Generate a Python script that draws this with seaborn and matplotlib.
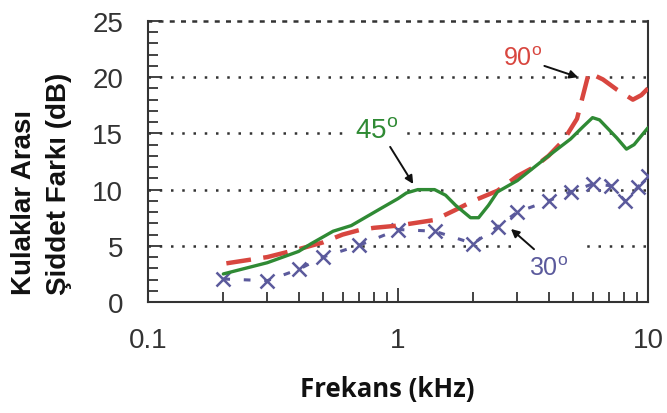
import numpy as np
import pandas as pd
import matplotlib
matplotlib.use("Agg")
import matplotlib.pyplot as plt
import seaborn as sns
from matplotlib.ticker import FixedLocator, NullFormatter, MultipleLocator

# values
freq90 = [0.2, 0.3, 0.4, 0.5, 0.6, 0.7, 0.8, 1.0, 1.4, 1.7, 2.0, 2.5, 3.0, 3.5, 4.0, 4.6, 5.2, 5.8, 6.6, 7.5, 8.7, 9.4, 10.0]
ild90 = [3.4, 4.0, 4.7, 5.3, 6.0, 6.4, 6.6, 6.8, 7.3, 8.2, 9.0, 9.9, 11.2, 12.0, 13.0, 14.4, 16.3, 20.4, 19.8, 18.9, 18.0, 18.4, 19.0]

freq45 = [0.2, 0.3, 0.4, 0.45, 0.55, 0.65, 0.85, 1.0, 1.08, 1.2, 1.4, 1.55, 1.7, 1.95, 2.1, 2.3, 2.5,
          3.0, 4.0, 4.9, 5.5, 6.0, 6.4, 7.5, 8.2, 8.8, 9.5, 10.0]
ild45 = [2.5, 3.5, 4.5, 5.2, 6.3, 6.8, 8.3, 9.2, 9.7, 10.0, 10.0, 9.5, 8.6, 7.5, 7.5, 8.6, 9.8,
         10.8, 13.0, 14.5, 15.6, 16.4, 16.2, 14.6, 13.6, 14.0, 14.9, 15.5]

freq30 = [0.2, 0.3, 0.4, 0.5, 0.7, 1.0, 1.4, 2.0, 2.5, 3.0, 4.0, 4.9, 6.0, 7.1, 8.1, 9.1, 10.0]
ild30 = [2.05, 1.9, 2.9, 4.0, 5.05, 6.45, 6.3, 5.2, 6.7, 8.0, 9.0, 9.8, 10.5, 10.35, 9.0, 10.2, 11.2]

xTicks = [0.1, 1, 10]
xLabels = ["0.1", "1", "10"]
yTicks = [0, 5, 10, 15, 20, 25]
yLabels = ["0", "5", "10", "15", "20", "25"]

green = "#2f8a34"
red = "#d8463f"
navy = "#5b5a9c"

sns.set_style("ticks")
plt.rcParams['font.family'] = ['Liberation Sans', 'DejaVu Sans']

fig = plt.figure(figsize=(6.67, 4.14), dpi=100)
ax = fig.add_axes([0.222, 0.268, 0.7495, 0.679])

# red curve drawn right-to-left so the dash pattern starts at the 10 kHz end
df90 = pd.DataFrame({"f": freq90[::-1], "ild": ild90[::-1]})
df45 = pd.DataFrame({"f": freq45, "ild": ild45})
df30 = pd.DataFrame({"f": freq30, "ild": ild30})

sns.lineplot(data=df90, x="f", y="ild", ax=ax, color=red, lw=3.2, zorder=4, sort=False)
ax.lines[-1].set_dashes([5.6, 2.8])
sns.lineplot(data=df45, x="f", y="ild", ax=ax, color=green, lw=2.4, zorder=5)
sns.lineplot(data=df30, x="f", y="ild", ax=ax, color=navy, lw=2.2, zorder=3,
             marker="x", markersize=10, markeredgewidth=1.8, markeredgecolor=navy)
ax.lines[-1].set_dashes([2.2, 4.5])

ax.set_xscale("log")
ax.set_xlim(0.1, 10)
ax.set_ylim(0, 25)
ax.set_xticks(xTicks)
ax.set_xticklabels(xLabels)
ax.xaxis.set_minor_locator(FixedLocator([k * d for d in (0.1, 1) for k in range(2, 10)]))
ax.xaxis.set_minor_formatter(NullFormatter())
ax.set_yticks(yTicks)
ax.set_yticklabels(yLabels)
ax.yaxis.set_minor_locator(MultipleLocator(1))

ax.tick_params(which="both", direction="in", colors="#222222", labelcolor="#333333",
               labelsize=20, pad=18)
ax.tick_params(which="major", length=10, width=1.2)
ax.tick_params(which="minor", length=7, width=1.2)

for yv in [5, 10, 15, 20]:
    ax.axhline(yv, color="#333333", lw=1.8, ls=(0, (1, 3.5)), zorder=1)

for s in ["left", "bottom", "right"]:
    ax.spines[s].set_color("#333333")
    ax.spines[s].set_linewidth(1.5)
ax.spines["top"].set_linestyle((0, (1, 3.5)))
ax.spines["top"].set_linewidth(1.8)
ax.spines["top"].set_color("#333333")

ax.set_xlabel("Frekans (kHz)", fontsize=18.5, fontweight="bold", family="Open Sans", color="#111111")
ax.xaxis.set_label_coords(0.478, -0.258)
ax.set_ylabel("Kulaklar Arası\nŞiddet Farkı (dB)", fontsize=20, fontweight="bold", color="#111111",
              ha="center", va="center", ma="left", rotation_mode="default", linespacing=1.45)
ax.yaxis.set_label_coords(-0.214, 0.424)

box = dict(facecolor="white", edgecolor="none", pad=4)
arrow = dict(arrowstyle="-|>", color="#111111", lw=1.4, mutation_scale=12, shrinkA=0, shrinkB=0)

ax.text(0.82, 15.2, "45$^\\mathregular{o}$", color=green, fontsize=20, ha="center", va="center",
        bbox=box, zorder=2)
ax.annotate("", xy=(1.15, 10.5), xytext=(0.93, 13.8), arrowprops=arrow, zorder=6)

ax.text(3.15, 21.7, "90$^\\mathregular{o}$", color=red, fontsize=18, ha="center", va="center", zorder=2)
ax.annotate("", xy=(5.25, 20.0), xytext=(3.85, 21.0), arrowprops=arrow, zorder=6)

ax.text(4.0, 3.05, "30$^\\mathregular{o}$", color=navy, fontsize=18, ha="center", va="center",
        bbox=dict(facecolor="white", edgecolor="none", pad=8), zorder=2)
ax.annotate("", xy=(2.83, 6.5), xytext=(3.5, 4.7), arrowprops=arrow, zorder=6)

plt.savefig("out.png", dpi=100)
